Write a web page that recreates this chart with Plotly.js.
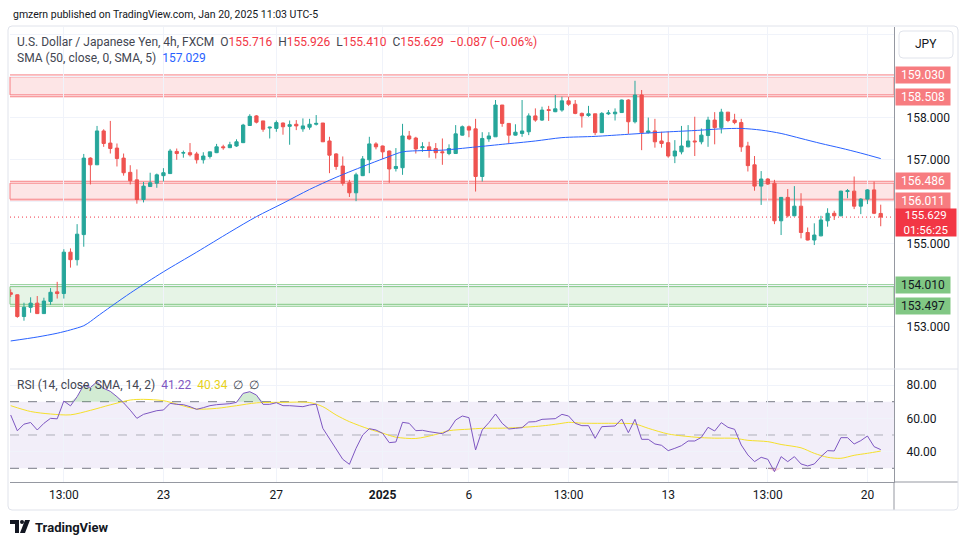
<!DOCTYPE html>
<html><head><meta charset="utf-8">
<script src="https://cdn.plot.ly/plotly-3.0.1.min.js"></script>
<style>html,body{margin:0;padding:0;background:#fff}#chart{width:970px;height:545px}</style>
</head><body><div id="chart"></div>
<script>
// ---- Candles (4h USDJPY) ----
const opens=[153.82,153.77,153.25,153.47,153.57,153.32,153.61,153.84,153.80,154.79,154.61,155.21,157.04,156.88,157.69,157.40,157.28,157.04,156.70,156.52,156.05,156.36,156.44,156.62,156.67,157.20,157.16,157.17,157.14,157.00,157.08,157.17,157.31,157.29,157.33,157.41,157.82,158.05,157.93,157.76,157.75,157.88,157.80,157.85,157.74,157.78,157.85,157.88,157.45,157.14,156.85,156.45,156.21,156.62,157.00,157.38,157.33,157.21,156.79,156.81,157.57,157.52,157.29,157.31,157.27,157.19,157.15,157.15,157.59,157.79,157.74,156.60,157.50,157.55,158.31,157.87,157.59,157.63,157.67,158.05,157.95,158.20,158.15,158.19,158.41,158.33,158.11,158.06,158.10,157.65,158.10,158.10,158.13,158.43,157.91,158.55,157.65,157.69,157.45,157.41,157.09,157.19,157.31,157.45,157.43,157.58,157.95,157.77,158.14,157.95,157.89,157.33,156.88,156.37,156.54,156.44,155.54,156.10,155.66,155.89,155.26,155.08,155.18,155.54,155.72,155.66,156.24,156.25,155.89,156.06,156.28,155.716];
const highs=[153.90,153.78,153.58,153.71,153.74,153.70,153.93,154.08,154.86,154.88,155.46,157.14,157.06,157.81,157.73,157.93,157.39,157.15,156.87,156.77,156.47,156.69,156.67,156.80,157.26,157.27,157.22,157.40,157.19,157.18,157.19,157.38,157.36,157.43,157.49,157.86,158.09,158.07,157.93,157.79,157.94,157.89,157.94,157.95,157.99,157.98,158.07,157.88,157.55,157.16,157.08,156.52,156.69,157.09,157.55,157.42,157.34,157.22,157.28,157.86,157.69,157.55,157.42,157.43,157.40,157.51,157.37,157.83,157.82,157.82,157.98,157.66,157.66,158.43,158.31,157.88,157.85,158.43,158.11,158.23,158.27,158.29,158.55,158.51,158.51,158.43,158.13,158.29,158.10,158.14,158.19,158.23,158.44,158.45,158.89,158.67,158.01,157.98,157.67,157.67,157.47,157.81,157.83,158.03,157.75,158.03,158.14,158.22,158.14,158.10,157.98,157.43,157.09,156.73,156.56,156.52,156.11,156.30,156.37,156.20,155.38,155.48,155.66,155.84,155.78,156.26,156.30,156.60,156.08,156.30,156.48,155.926];
const lows=[153.72,153.22,153.15,153.34,153.31,153.31,153.53,153.68,153.68,154.42,154.47,154.92,156.41,156.88,157.31,157.15,156.84,156.62,156.41,155.95,155.98,156.35,156.33,156.48,156.66,157.00,157.05,157.08,156.91,156.91,157.03,157.16,157.24,157.28,157.31,157.40,157.81,157.87,157.67,157.51,157.67,157.60,157.36,157.71,157.67,157.72,157.82,157.43,156.68,156.76,156.38,156.11,156.01,156.61,156.68,157.25,157.02,156.45,156.72,156.64,157.47,157.15,157.19,157.05,157.03,156.88,157.11,157.14,157.58,157.54,156.24,156.48,157.43,157.55,157.79,157.39,157.58,157.55,157.59,157.91,157.93,157.93,158.14,158.15,158.29,158.09,157.77,158.03,157.59,157.64,158.07,157.94,158.12,157.62,157.87,157.23,157.63,157.29,157.29,157.05,156.92,157.13,157.30,157.09,157.37,157.31,157.37,157.63,157.90,157.85,157.19,156.72,156.26,155.92,156.40,155.46,155.20,155.62,155.65,155.12,155.07,154.96,155.17,155.40,155.56,155.65,156.08,155.82,155.70,155.94,155.70,155.41];
const closes=[153.78,153.25,153.47,153.57,153.32,153.62,153.83,153.80,154.79,154.61,155.22,157.04,156.88,157.69,157.39,157.27,157.03,156.69,156.50,156.05,156.37,156.45,156.64,156.69,157.21,157.15,157.17,157.12,157.00,157.09,157.19,157.31,157.29,157.36,157.43,157.83,158.04,157.90,157.73,157.78,157.89,157.79,157.84,157.81,157.81,157.85,157.87,157.43,157.11,156.84,156.44,156.21,156.64,157.02,157.38,157.31,157.19,156.78,156.84,157.57,157.50,157.26,157.31,157.23,157.17,157.17,157.27,157.62,157.79,157.71,156.60,157.51,157.57,158.31,157.87,157.59,157.66,157.69,158.05,157.95,158.19,158.18,158.22,158.41,158.33,158.11,158.05,158.10,157.65,158.11,158.12,158.14,158.43,157.91,158.55,157.65,157.69,157.43,157.39,157.09,157.21,157.33,157.45,157.43,157.59,157.95,157.77,158.14,157.94,157.89,157.31,156.86,156.37,156.54,156.42,155.54,156.10,155.66,155.89,155.26,155.08,155.20,155.56,155.72,155.66,156.25,156.26,155.89,156.06,156.28,155.72,155.629];

// ---- SMA(50) read at sample candles ----
const smaIdx=[0,4,7,9,11,12,13,18,23,28,33,37,41,45,49,54,57,59,62,65,69,74,79,83,88,93,98,103,107,110,113,116,119,122,125,128,131];
const smaVal=[152.665,152.76,152.85,152.93,153.03,153.13,153.25,153.81,154.32,154.79,155.27,155.64,155.96,156.29,156.58,156.90,157.08,157.19,157.22,157.23,157.29,157.37,157.45,157.53,157.56,157.61,157.66,157.70,157.74,157.75,157.71,157.63,157.51,157.39,157.28,157.16,157.029];

// ---- RSI(14) per candle ----
const rsi=[62.0,52.5,56.5,57.5,53.0,57.0,60.0,59.7,70.4,67.5,73.0,80.0,78.5,82.0,78.0,76.2,73.0,69.3,64.9,60.0,62.4,63.4,64.6,65.0,69.0,68.4,68.2,67.0,65.4,66.4,67.6,68.2,68.4,68.8,69.6,75.0,76.0,74.0,68.4,68.4,69.4,67.6,67.6,67.4,67.0,68.0,68.5,54.0,48.0,42.0,35.4,32.4,42.0,50.0,53.8,53.0,51.0,45.4,45.8,57.6,57.0,52.6,52.8,52.0,51.2,50.8,53.0,59.0,61.4,60.4,41.0,53.0,57.4,62.6,57.0,53.6,54.0,54.4,57.8,58.0,59.4,59.4,59.8,62.4,61.4,57.0,55.6,55.6,48.0,55.0,55.0,55.4,59.6,51.4,59.4,47.4,47.4,44.6,43.8,40.6,42.0,43.6,46.4,46.4,48.6,54.6,52.4,57.4,54.6,53.4,44.0,38.0,34.0,36.6,35.4,28.0,37.0,34.0,37.0,32.6,31.4,32.6,37.0,40.6,40.4,48.4,48.4,44.6,46.6,49.4,43.0,41.22];
// ---- RSI-based MA read at sample candles ----
const rsiMaIdx=[0,3,6,9,12,15,18,20,23,25,28,31,34,37,41,45,47,49,51,54,56,58,61,64,66,69,71,74,76,79,81,83,84,86,89,91,94,96,99,101,104,106,109,111,114,116,119,121,123,125,127,129,131];
const rsiMaVal=[67.6,64.1,62.6,62.1,64.8,68.1,71.0,71.4,70.6,68.6,65.6,66.0,67.6,69.3,69.6,69.5,67.0,62.0,58.0,53.5,51.1,48.7,47.9,50.3,52.6,53.5,54.0,54.1,54.4,55.1,55.9,57.0,57.6,57.1,57.0,57.0,56.6,54.0,50.6,49.5,48.4,48.1,48.0,46.8,46.0,44.3,42.3,39.0,36.6,36.0,37.8,39.0,40.34];

// ---- Zones / levels ----
const redZoneHi=[159.030,156.486];
const redZoneLo=[158.508,156.011];
const greenZoneHi=[154.010];
const greenZoneLo=[153.497];
const countdown="01:56:25";

// ---- Time axis ----
const tickIdx=[8,23,40,56,69,84,99,114,129];
const tickText=['13:00','23','27','<b>2025</b>','6','13:00','13','13:00','20'];
const priceTicks=[152,153,154,155,156,157,158,159,160];
const priceShown=[153,155,157,158];
const rsiTicks=[40,60,80];

const idx=opens.map((_,i)=>i);
const FONT='Roboto, "Liberation Sans", Arial, sans-serif';
const px=x=>(x-10)/884;
const py=y=>(482-y)/455;
const RED='#f77c80', GREEN='#81c784';

const traces=[
 {type:'candlestick',x:idx,open:opens,high:highs,low:lows,close:closes,xaxis:'x',yaxis:'y',
  increasing:{line:{color:'#26a69a',width:1},fillcolor:'#26a69a'},
  decreasing:{line:{color:'#ef5350',width:1},fillcolor:'#ef5350'},
  whiskerwidth:0,hoverinfo:'skip',showlegend:false},
 {type:'scatter',mode:'lines',x:smaIdx,y:smaVal,xaxis:'x',yaxis:'y',line:{color:'#2962ff',width:1,shape:'spline',smoothing:0.8},hoverinfo:'skip',showlegend:false},
 {type:'scatter',mode:'lines',x:idx,y:idx.map(()=>70),xaxis:'x',yaxis:'y2',line:{width:0},hoverinfo:'skip',showlegend:false},
 {type:'scatter',mode:'lines',x:idx,y:rsi.map(v=>Math.max(v,70)),xaxis:'x',yaxis:'y2',line:{width:0},fill:'tonexty',fillcolor:'rgba(76,175,80,0.25)',hoverinfo:'skip',showlegend:false},
 {type:'scatter',mode:'lines',x:idx,y:idx.map(()=>30),xaxis:'x',yaxis:'y2',line:{width:0},hoverinfo:'skip',showlegend:false},
 {type:'scatter',mode:'lines',x:idx,y:rsi.map(v=>Math.min(v,30)),xaxis:'x',yaxis:'y2',line:{width:0},fill:'tonexty',fillcolor:'rgba(242,54,69,0.2)',hoverinfo:'skip',showlegend:false},
 {type:'scatter',mode:'lines',x:rsiMaIdx,y:rsiMaVal,xaxis:'x',yaxis:'y2',line:{color:'#f5e02a',width:1,shape:'spline',smoothing:0.8},hoverinfo:'skip',showlegend:false},
 {type:'scatter',mode:'lines',x:idx,y:rsi,xaxis:'x',yaxis:'y2',line:{color:'#7e57c2',width:1},hoverinfo:'skip',showlegend:false}
];

const shapes=[];
const INSET=0.045;
function zone(hi,lo,col,fill){
  shapes.push({type:'rect',xref:'paper',yref:'y',x0:0,x1:1,y0:lo+INSET,y1:hi-INSET,fillcolor:fill,line:{color:col,width:1},layer:'below'});
  shapes.push({type:'line',xref:'paper',yref:'y',x0:0,x1:1,y0:hi,y1:hi,line:{color:col,width:1},layer:'below'});
  shapes.push({type:'line',xref:'paper',yref:'y',x0:0,x1:1,y0:lo,y1:lo,line:{color:col,width:1},layer:'below'});
}
redZoneHi.forEach((h,k)=>zone(h,redZoneLo[k],RED,'rgba(247,124,128,0.2)'));
greenZoneHi.forEach((h,k)=>zone(h,greenZoneLo[k],GREEN,'rgba(129,199,132,0.2)'));
const last=closes[closes.length-1];
shapes.push({type:'line',xref:'paper',yref:'y',x0:0,x1:1,y0:last,y1:last,line:{color:'#f23645',width:1,dash:'1px,3px'},layer:'below'});
// RSI band + dashed levels
shapes.push({type:'rect',xref:'paper',yref:'y2',x0:0,x1:1,y0:30,y1:70,fillcolor:'rgba(126,87,194,0.1)',line:{width:0},layer:'below'});
[70,50,30].forEach(v=>shapes.push({type:'line',xref:'paper',yref:'y2',x0:0,x1:1,y0:v,y1:v,line:{color:v===50?'rgba(120,123,134,0.55)':'#787b86',width:1,dash:'dash'},layer:'below'}));
// frame & separators
shapes.push({type:'line',xref:'paper',yref:'paper',x0:px(10),x1:px(958),y0:py(369),y1:py(369),line:{color:'#e0e3eb',width:1}});
shapes.push({type:'line',xref:'paper',yref:'paper',x0:px(894),x1:px(958),y0:py(482),y1:py(482),line:{color:'#9598a1',width:1}});
shapes.push({type:'line',xref:'paper',yref:'paper',x0:px(894),x1:px(894),y0:py(482),y1:py(510),line:{color:'#9598a1',width:1}});
shapes.push({type:'path',xref:'paper',yref:'paper',
  path:`M ${px(12)} ${py(26)} L ${px(954)} ${py(26)} Q ${px(958)} ${py(26)} ${px(958)} ${py(30)} L ${px(958)} ${py(506)} Q ${px(958)} ${py(510)} ${px(954)} ${py(510)} L ${px(12)} ${py(510)} Q ${px(8)} ${py(510)} ${px(8)} ${py(506)} L ${px(8)} ${py(30)} Q ${px(8)} ${py(26)} ${px(12)} ${py(26)} Z`,
  line:{color:'#e0e3eb',width:1},fillcolor:'rgba(0,0,0,0)'});
// JPY button
shapes.push({type:'path',xref:'paper',yref:'paper',
  path:`M ${px(903)} ${py(31)} L ${px(949)} ${py(31)} Q ${px(953)} ${py(31)} ${px(953)} ${py(35)} L ${px(953)} ${py(54)} Q ${px(953)} ${py(58)} ${px(949)} ${py(58)} L ${px(903)} ${py(58)} Q ${px(899)} ${py(58)} ${px(899)} ${py(54)} L ${px(899)} ${py(35)} Q ${px(899)} ${py(31)} ${px(903)} ${py(31)} Z`,
  line:{color:'#e0e3eb',width:1},fillcolor:'#ffffff'});
// TradingView logo
shapes.push({type:'path',xref:'paper',yref:'paper',path:`M ${px(10)} ${py(520)} L ${px(19)} ${py(520)} L ${px(19)} ${py(533)} L ${px(15)} ${py(533)} L ${px(15)} ${py(524)} L ${px(10)} ${py(524)} Z`,fillcolor:'#131722',line:{width:0}});
shapes.push({type:'circle',xref:'paper',yref:'paper',x0:px(20),x1:px(24),y0:py(520),y1:py(524),fillcolor:'#131722',line:{width:0}});
shapes.push({type:'path',xref:'paper',yref:'paper',path:`M ${px(25)} ${py(520)} L ${px(30)} ${py(520)} L ${px(25)} ${py(533)} L ${px(20)} ${py(533)} Z`,fillcolor:'#131722',line:{width:0}});

const f3=v=>v.toFixed(3);
const DARK='#131722', VRED='#f23645';
const chg=last-opens[opens.length-1];
const sp='\u00a0\u00a0';
const header=`<span style="color:#434651">U.S. Dollar / Japanese Yen, 4h, FXCM</span>${sp}<span style="color:#434651">O</span><span style="color:${VRED}">${f3(opens[opens.length-1])}</span>${sp}<span style="color:#434651">H</span><span style="color:${VRED}">${f3(highs[highs.length-1])}</span>${sp}<span style="color:#434651">L</span><span style="color:${VRED}">${f3(lows[lows.length-1])}</span>${sp}<span style="color:#434651">C</span><span style="color:${VRED}">${f3(last)}</span>${sp}<span style="color:${VRED}">\u2212${Math.abs(chg).toFixed(3)} (\u2212${(Math.abs(chg)/opens[opens.length-1]*100).toFixed(2)}%)</span>`;

const annotations=[
 {xref:'paper',yref:'paper',x:px(11),y:py(14),xanchor:'left',yanchor:'middle',showarrow:false,text:'gmzern published on TradingView.com, Jan 20, 2025 11:03 UTC-5',font:{family:FONT,size:10.5,color:DARK}},
 {xref:'paper',yref:'paper',x:px(15),y:py(42),xanchor:'left',yanchor:'middle',showarrow:false,text:header,font:{family:FONT,size:12,color:'#434651'}},
 {xref:'paper',yref:'paper',x:px(15),y:py(58),xanchor:'left',yanchor:'middle',showarrow:false,text:`<span style="color:#434651">SMA (50, close, 0, SMA, 5)</span>${sp}<span style="color:#2962ff">${f3(smaVal[smaVal.length-1])}</span>`,font:{family:FONT,size:12,color:'#434651'}},
 {xref:'paper',yref:'paper',x:px(15),y:py(385),xanchor:'left',yanchor:'middle',showarrow:false,text:`<span style="color:#434651">RSI (14, close, SMA, 14, 2)</span>${sp}<span style="color:#7e57c2">${rsi[rsi.length-1].toFixed(2)}</span>${sp}<span style="color:#e8d21a">${rsiMaVal[rsiMaVal.length-1].toFixed(2)}</span>${sp}<span style="color:#434651">\u2205${sp}\u2205</span>`,font:{family:FONT,size:12,color:'#434651'}},
 {xref:'paper',yref:'paper',x:px(926),y:py(44),xanchor:'center',yanchor:'middle',showarrow:false,text:'JPY',font:{family:FONT,size:12,color:DARK}},
 {xref:'paper',yref:'paper',x:px(33),y:py(527),xanchor:'left',yanchor:'middle',showarrow:false,text:'<b>TradingView</b>',font:{family:FONT,size:13,color:DARK}}
];
function label(v,bg,fg){
  annotations.push({xref:'paper',yref:'y',x:px(895),y:v,xanchor:'left',yanchor:'middle',showarrow:false,text:f3(v),
    bgcolor:bg,width:54,height:16,borderpad:0,align:'center',font:{family:FONT,size:12,color:fg}});
}
redZoneHi.forEach(v=>label(v,RED,'#ffffff'));
redZoneLo.forEach(v=>label(v,RED,'#ffffff'));
greenZoneHi.forEach(v=>label(v,GREEN,DARK));
greenZoneLo.forEach(v=>label(v,GREEN,DARK));
annotations.push({xref:'paper',yref:'y',x:px(895),y:last,xanchor:'left',yanchor:'top',yshift:9,showarrow:false,
  text:`${f3(last)}<br>${countdown}`,bgcolor:VRED,width:58,height:25,borderpad:1,align:'center',font:{family:FONT,size:11.5,color:'#ffffff'}});

const layout={
  width:970,height:545,margin:{l:10,r:76,t:27,b:63},
  paper_bgcolor:'#ffffff',plot_bgcolor:'#ffffff',showlegend:false,
  font:{family:FONT,size:12,color:DARK},
  xaxis:{domain:[0,1],anchor:'y2',range:[-0.105,133.0],rangeslider:{visible:false},
    tickvals:tickIdx,ticktext:tickText,showgrid:true,gridcolor:'#f0f3fa',gridwidth:1,
    showline:true,linecolor:'#9598a1',linewidth:1,ticks:'',zeroline:false,ticklabelstandoff:2,
    tickfont:{family:FONT,size:12,color:DARK},fixedrange:true},
  yaxis:{domain:[0.2484,1],anchor:'x',side:'right',range:[151.995,160.177],
    tickvals:priceTicks,ticktext:priceTicks.map(v=>priceShown.includes(v)?v.toFixed(3):''),
    showgrid:true,gridcolor:'#f0f3fa',zeroline:false,showline:true,linecolor:'#9598a1',mirror:false,
    ticks:'',ticklabelstandoff:9,tickfont:{family:FONT,size:12,color:DARK}},
  yaxis2:{domain:[0,0.2484],anchor:'x',side:'right',range:[21.77,89.64],
    tickvals:rsiTicks,ticktext:rsiTicks.map(v=>v.toFixed(2)),
    showgrid:true,gridcolor:'#f0f3fa',zeroline:false,showline:true,linecolor:'#9598a1',
    ticks:'',ticklabelstandoff:9,tickfont:{family:FONT,size:12,color:DARK}},
  boxgap:0.3,
  shapes:shapes,annotations:annotations
};
Plotly.newPlot('chart',traces,layout,{staticPlot:true,displayModeBar:false});
</script></body></html>
